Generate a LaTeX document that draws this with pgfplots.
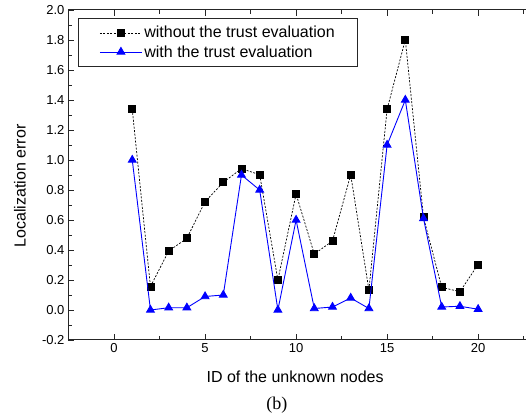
\documentclass[border=0pt]{standalone}
\usepackage{fontspec}
\setmainfont{Liberation Sans}
\newfontfamily\timesfont{Liberation Serif}
\usepackage{pgfplots}
\pgfplotsset{compat=1.18}
\usetikzlibrary{calc}
\begin{document}
\begin{tikzpicture}
\begin{axis}[
  scale only axis,
  width=458pt, height=330pt,
  xmin=-2.53, xmax=22.63,
  ymin=-0.2, ymax=2.0,
  clip mode=individual,
  axis x line*=box,
  axis y line*=left,
  axis line style={line width=1pt, black!85},
  tick align=inside,
  major tick length=6pt,
  minor tick length=4pt,
  every tick/.style={black!85, line width=0.8pt},
  xtick={0,5,10,15,20},
  minor xtick={2.5,7.5,12.5,17.5,22.5},
  ytick={-0.2,0,0.2,...,2.0},
  minor ytick={-0.1,0.1,0.3,0.5,0.7,0.9,1.1,1.3,1.5,1.7,1.9},
  /pgf/number format/assume math mode=true,
  yticklabel style={/pgf/number format/fixed, /pgf/number format/fixed zerofill, /pgf/number format/precision=1, font=\fontsize{13pt}{15pt}\selectfont},
  xticklabel style={font=\fontsize{13pt}{15pt}\selectfont},
  xlabel={ID of the unknown nodes},
  xlabel style={font=\fontsize{16pt}{18pt}\selectfont, at={(axis description cs:0.496,0)}, anchor=center, yshift=-37pt},
  legend style={at={(axis description cs:0.022,0.976)}, anchor=north west,
    draw=black!85, line width=0.8pt, font=\fontsize{16pt}{18pt}\selectfont,
    inner xsep=21pt, inner ysep=6pt, row sep=2pt, cells={anchor=west}},
  legend image code/.code={\draw[mark repeat=2, mark phase=2] plot coordinates {(0pt,0pt) (21pt,0pt) (42pt,0pt)};},
]
\coordinate (SW) at (rel axis cs:0,0);
\coordinate (NE) at (rel axis cs:1,1);
\addplot[black, line width=0.7pt, dash pattern=on 2pt off 1.5pt, mark=square*, mark size=3.5pt, mark options={solid, fill=black}]
coordinates {
(1,1.338) (2,0.156) (3,0.393) (4,0.478) (5,0.722) (6,0.851) (7,0.942) (8,0.902) (9,0.200) (10,0.773)
(11,0.373) (12,0.460) (13,0.902) (14,0.133) (15,1.338) (16,1.802) (17,0.618) (18,0.151) (19,0.122) (20,0.304)
};
\addlegendentry{without the trust evaluation}
\addplot[blue, line width=0.9pt, mark=triangle*, mark size=4.5pt, mark options={solid, fill=blue}]
coordinates {
(1,1.0) (2,0.0) (3,0.015) (4,0.015) (5,0.09) (6,0.1) (7,0.9) (8,0.8) (9,0.0) (10,0.6)
(11,0.01) (12,0.02) (13,0.08) (14,0.01) (15,1.1) (16,1.4) (17,0.61) (18,0.02) (19,0.025) (20,0.005)
};
\addlegendentry{with the trust evaluation}
\node[font=\fontsize{16pt}{18pt}\selectfont, rotate=90, anchor=center] at (axis description cs:-0.105,0.467) {Localization error};
\node[font=\timesfont\fontsize{18pt}{20pt}\selectfont] at (axis description cs:0.456,-0.197) {(b)};
\end{axis}
\pgfresetboundingbox
\path[use as bounding box] ($(SW)+(-68pt,-79pt)$) rectangle ($(NE)+(0,10pt)$);
\end{tikzpicture}
\end{document}
